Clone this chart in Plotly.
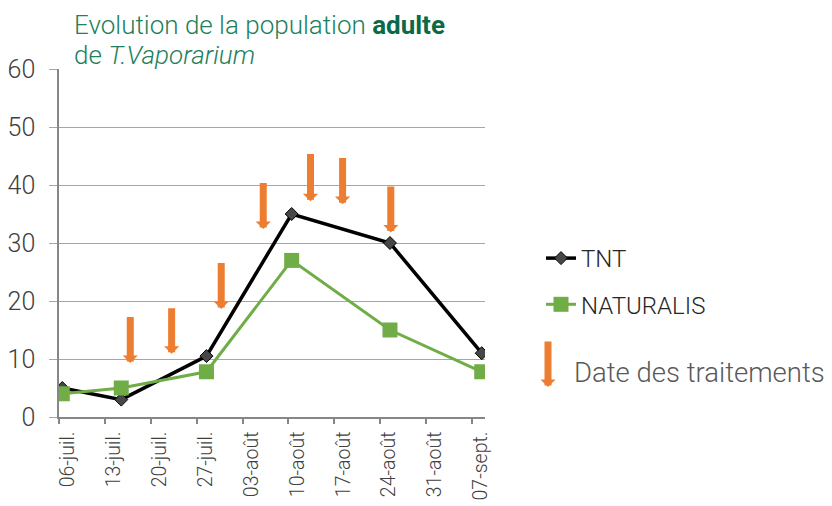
"""Evolution de la population adulte de T. vaporariorum - TNT vs NATURALIS."""

import pandas as pd
import plotly.graph_objects as go

# relevés (dates de comptage) et comptages
dates = ["2019-07-06", "2019-07-15", "2019-07-28", "2019-08-10", "2019-08-25", "2019-09-08"]
tnt = [5, 3, 10.5, 35, 30, 11]
naturalis = [4, 5, 7.8, 27, 15, 7.8]

# dates des traitements (flèches) : position, haut et pointe de la flèche
treat_dates = ["2019-07-16 21:00", "2019-07-23 04:30", "2019-07-30 18:00", "2019-08-06 04:00",
               "2019-08-13 09:00", "2019-08-18 06:30", "2019-08-25 15:00"]
treat_top = [17.5, 19.0, 26.8, 40.6, 45.6, 44.9, 40.0]
treat_tip = [9.3, 10.9, 18.6, 32.4, 37.2, 36.7, 31.8]

tick_dates = ["2019-07-06", "2019-07-13", "2019-07-20", "2019-07-27", "2019-08-03",
              "2019-08-10", "2019-08-17", "2019-08-24", "2019-08-31", "2019-09-07"]
tick_text = ["06-juil.", "13-juil.", "20-juil.", "27-juil.", "03-août",
             "10-août", "17-août", "24-août", "31-août", "07-sept."]

ORANGE = "#ED7D31"
GREEN = "#70AD47"
FONT = "Roboto"

# la page html ajoute une marge de 8 px autour de la figure
W, H = 824, 498
L, T, PW, PH = 59, 69, 426, 348  # zone de tracé, en pixels de page


def px_x(px):
    return (px - L) / PW


def px_y(py):
    return (T + PH - py) / PH


# Excel centre chaque point dans sa journée
x_pts = pd.to_datetime(dates) + pd.Timedelta(hours=12)

fig = go.Figure()
fig.add_trace(go.Scatter(
    x=x_pts, y=tnt, name="TNT", mode="lines+markers",
    line=dict(color="black", width=3.5),
    marker=dict(symbol="diamond", size=10, color="#474747", line=dict(color="black", width=1)),
    legendgroup="a",
))
fig.add_trace(go.Scatter(
    x=x_pts, y=naturalis, name="NATURALIS", mode="lines+markers",
    line=dict(color=GREEN, width=3),
    marker=dict(symbol="square", size=15, color=GREEN),
    legendgroup="b",
))

for xd, top, tip in zip(treat_dates, treat_top, treat_tip):
    fig.add_annotation(
        x=xd, y=tip, ax=xd, ay=top, xref="x", yref="y", axref="x", ayref="y",
        text="", showarrow=True, arrowhead=1, arrowsize=0.36, arrowwidth=7,
        arrowcolor=ORANGE, standoff=0,
    )

# titre, deux lignes
title_font = dict(family=FONT, size=26, color="#21805B", weight=300)
fig.add_annotation(
    x=px_x(72), y=px_y(25), xref="paper", yref="paper", showarrow=False,
    xanchor="left", yanchor="middle",
    text="Evolution de la population <span style='color:#0B6A45'><b>adulte</b></span>",
    font=title_font,
)
fig.add_annotation(
    x=px_x(72), y=px_y(55), xref="paper", yref="paper", showarrow=False,
    xanchor="left", yanchor="middle", text="de <i>T.Vaporarium</i>", font=title_font,
)

# légende des traitements
fig.add_annotation(
    x=px_x(548), y=px_y(387), xref="paper", yref="paper", text="",
    showarrow=True, arrowhead=1, arrowsize=0.36, arrowwidth=7, arrowcolor=ORANGE,
    ax=0, ay=-47, standoff=0,
)
fig.add_annotation(
    x=px_x(572), y=px_y(372), xref="paper", yref="paper",
    text="Date des traitements", showarrow=False, xanchor="left", yanchor="middle",
    font=dict(family=FONT, size=27.5, color="#595959", weight=300),
)

fig.update_layout(
    width=W, height=H,
    margin=dict(l=L - 8, r=W - (L - 8) - PW, t=T - 8, b=H - (T - 8) - PH),
    plot_bgcolor="white", paper_bgcolor="white",
    font=dict(family=FONT, color="#404040", weight=300),
    legend=dict(
        x=px_x(541), y=px_y(236), xanchor="left", yanchor="top",
        font=dict(family=FONT, size=24, color="#262626", weight=300),
        tracegroupgap=12, bgcolor="rgba(0,0,0,0)",
    ),
    xaxis=dict(
        type="date", range=["2019-07-06", "2019-09-09"], automargin=False,
        tickvals=tick_dates, ticktext=tick_text, tickangle=-90,
        tickfont=dict(size=19.5, color="#404040"),
        showgrid=False, showline=True, linecolor="#868686", linewidth=1.5,
        ticks="outside", ticklen=5, tickcolor="#868686", tickwidth=1.5,
        ticklabelstandoff=0, ticklabelshift=9,
    ),
    yaxis=dict(
        range=[0, 60], dtick=10, automargin=False, tickfont=dict(size=25, color="#404040"),
        showgrid=True, gridcolor="#A6A6A6", gridwidth=1.3,
        showline=True, linecolor="#868686", linewidth=1.5,
        ticks="outside", ticklen=8, tickcolor="#A6A6A6", ticklabelstandoff=9,
        zeroline=False,
    ),
)

fig.write_html("out.html")
